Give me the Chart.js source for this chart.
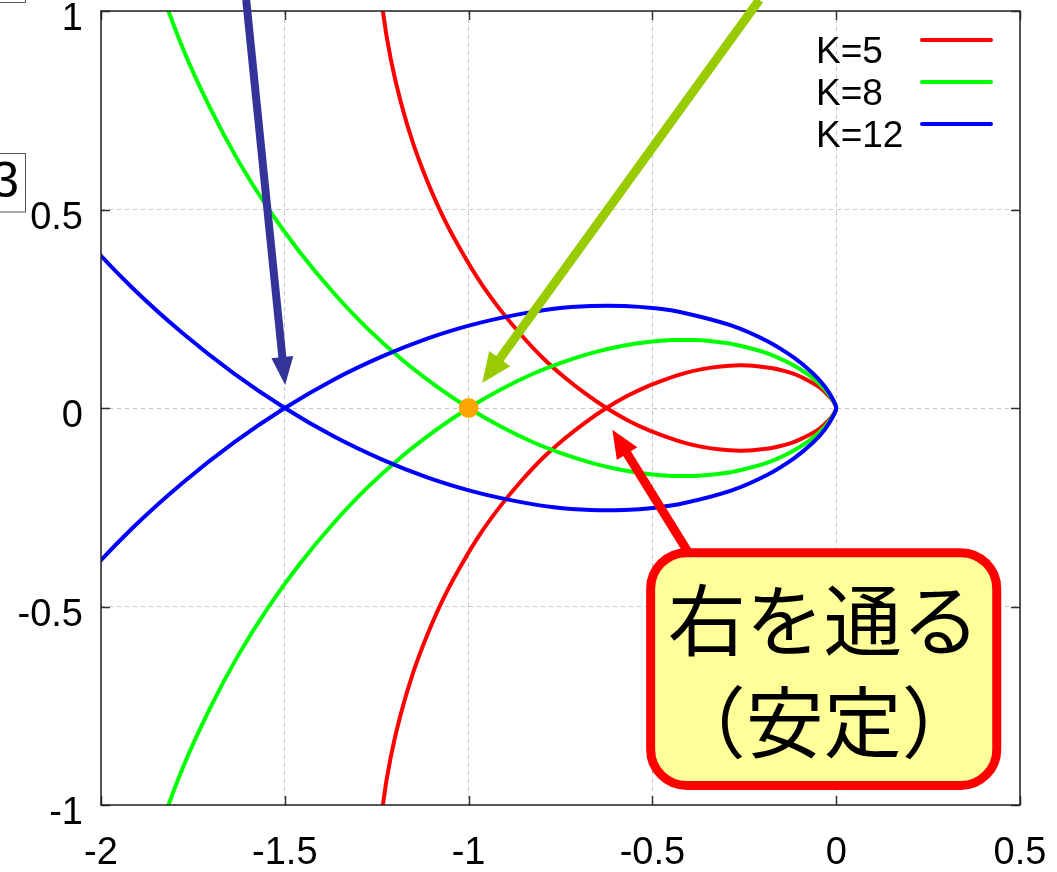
<!DOCTYPE html>
<html>
<head>
<meta charset="utf-8">
<script src="https://cdn.jsdelivr.net/npm/chart.js@4.4.1/dist/chart.umd.min.js"></script>
<style>
  html, body { margin: 0; padding: 0; background: #ffffff; }
  #wrap { width: 1057px; height: 872px; position: relative; }
</style>
</head>
<body>
<div id="wrap"><canvas id="nyquist"></canvas></div>
<script>
// Axis ticks
const xTicks = [-2, -1.5, -1, -0.5, 0, 0.5];
const yTicks = [-1, -0.5, 0, 0.5, 1];

// Series labels and colours
const seriesLabels = ['K=5', 'K=8', 'K=12'];
const seriesColors = ['#ff0000', '#00ff00', '#0000ff'];

// Nyquist loci of K/(s+1)^3, traced along the path: upper-left branch -> real-axis
// crossing -> lower loop -> origin -> upper loop -> crossing -> lower-left branch
const k5x = [-1.250, -1.246, -1.233, -1.212, -1.184, -1.150, -1.110, -1.066, -1.017, -0.966, -0.911, -0.855, -0.798, -0.740, -0.682, -0.625,
  -0.569, -0.515, -0.462, -0.412, -0.365, -0.320, -0.278, -0.240, -0.205, -0.173, -0.119, -0.078, -0.047, -0.026, -0.013, -0.003, 0,
  -0.003, -0.013, -0.026, -0.047, -0.078, -0.119, -0.173, -0.205, -0.240, -0.278, -0.320, -0.365, -0.412, -0.462, -0.515, -0.569,
  -0.625, -0.682, -0.740, -0.798, -0.855, -0.911, -0.966, -1.017, -1.066, -1.110, -1.150, -1.184, -1.212, -1.233, -1.246, -1.250];
const k5y = [1.250, 1.121, 0.998, 0.880, 0.769, 0.664, 0.566, 0.475, 0.391, 0.314, 0.244, 0.182, 0.126, 0.078, 0.036, 0,
  -0.030, -0.054, -0.073, -0.088, -0.098, -0.104, -0.107, -0.107, -0.104, -0.100, -0.087, -0.070, -0.053, -0.036, -0.023, -0.008, 0,
  0.008, 0.023, 0.036, 0.053, 0.070, 0.087, 0.100, 0.104, 0.107, 0.107, 0.104, 0.098, 0.088, 0.073, 0.054, 0.030,
  0, -0.036, -0.078, -0.126, -0.182, -0.244, -0.314, -0.391, -0.475, -0.566, -0.664, -0.769, -0.880, -0.998, -1.121, -1.250];

const k8x = [-1.895, -1.840, -1.777, -1.705, -1.628, -1.545, -1.458, -1.368, -1.277, -1.184, -1.091, -1,
  -0.910, -0.823, -0.739, -0.659, -0.583, -0.512, -0.446, -0.384, -0.328, -0.277, -0.191, -0.125, -0.076, -0.042, -0.021, -0.005, 0,
  -0.005, -0.021, -0.042, -0.076, -0.125, -0.191, -0.277, -0.328, -0.384, -0.446, -0.512, -0.583, -0.659, -0.739, -0.823, -0.910,
  -1, -1.091, -1.184, -1.277, -1.368, -1.458, -1.545, -1.628, -1.705, -1.777, -1.840, -1.895];
const k8y = [1.230, 1.062, 0.905, 0.759, 0.625, 0.502, 0.391, 0.291, 0.202, 0.124, 0.057, 0,
  -0.048, -0.087, -0.117, -0.140, -0.156, -0.166, -0.171, -0.171, -0.167, -0.160, -0.139, -0.112, -0.084, -0.058, -0.036, -0.014, 0,
  0.014, 0.036, 0.058, 0.084, 0.112, 0.139, 0.160, 0.167, 0.171, 0.171, 0.166, 0.156, 0.140, 0.117, 0.087, 0.048,
  0, -0.057, -0.124, -0.202, -0.291, -0.391, -0.502, -0.625, -0.759, -0.905, -1.062, -1.230];

const k12x = [-2.187, -2.052, -1.915, -1.776, -1.637, -1.5,
  -1.366, -1.235, -1.109, -0.989, -0.875, -0.768, -0.668, -0.576, -0.492, -0.416, -0.286, -0.187, -0.114, -0.063, -0.031, -0.008, 0,
  -0.008, -0.031, -0.063, -0.114, -0.187, -0.286, -0.416, -0.492, -0.576, -0.668, -0.768, -0.875, -0.989, -1.109, -1.235, -1.366,
  -1.5, -1.637, -1.776, -1.915, -2.052, -2.187];
const k12y = [0.586, 0.436, 0.303, 0.187, 0.086, 0,
  -0.072, -0.130, -0.176, -0.210, -0.234, -0.250, -0.257, -0.257, -0.251, -0.240, -0.208, -0.168, -0.126, -0.087, -0.054, -0.020, 0,
  0.020, 0.054, 0.087, 0.126, 0.168, 0.208, 0.240, 0.251, 0.257, 0.257, 0.250, 0.234, 0.210, 0.176, 0.130, 0.072,
  0, -0.086, -0.187, -0.303, -0.436, -0.586];

// The critical point -1 + j0
const criticalX = [-1];
const criticalY = [0];

// Callout box text
const calloutLines = ['右を通る', '（安定）'];

const pairs = (xs, ys) => xs.map((x, i) => ({ x: x, y: ys[i] }));
const FONT = "'Liberation Sans', Arial, sans-serif";

// Annotation arrows, given in data units (tail may sit above the plot frame)
const arrows = [
  { from: [-1.605, 1.028], to: [-1.499, 0.058], color: '#333399', shaft: 8, headLen: 28, headW: 22 },
  { from: [-0.209, 1.028], to: [-0.963, 0.063], color: '#99cc00', shaft: 9, headLen: 30, headW: 26 },
  { from: [-0.397, -0.372], to: [-0.609, -0.055], color: '#ff0000', shaft: 9, headLen: 28, headW: 24 }
];
const callout = { x1: -0.517, x2: 0.449, y1: -0.353, y2: -0.962, line1: -0.534, line2: -0.791 };

function drawArrow(ctx, sx, sy, tx, ty, a) {
  const dx = tx - sx, dy = ty - sy;
  const len = Math.hypot(dx, dy);
  const ux = dx / len, uy = dy / len;
  const bx = tx - ux * a.headLen, by = ty - uy * a.headLen;
  ctx.save();
  ctx.strokeStyle = a.color;
  ctx.fillStyle = a.color;
  ctx.lineWidth = a.shaft;
  ctx.lineCap = 'butt';
  ctx.beginPath();
  ctx.moveTo(sx, sy);
  ctx.lineTo(bx + ux * 2, by + uy * 2);
  ctx.stroke();
  ctx.beginPath();
  ctx.moveTo(tx, ty);
  ctx.lineTo(bx - uy * a.headW / 2, by + ux * a.headW / 2);
  ctx.lineTo(bx + uy * a.headW / 2, by - ux * a.headW / 2);
  ctx.closePath();
  ctx.fill();
  ctx.restore();
}

function roundRect(ctx, x, y, w, h, r) {
  ctx.beginPath();
  ctx.moveTo(x + r, y);
  ctx.lineTo(x + w - r, y);
  ctx.arcTo(x + w, y, x + w, y + r, r);
  ctx.lineTo(x + w, y + h - r);
  ctx.arcTo(x + w, y + h, x + w - r, y + h, r);
  ctx.lineTo(x + r, y + h);
  ctx.arcTo(x, y + h, x, y + h - r, r);
  ctx.lineTo(x, y + r);
  ctx.arcTo(x, y, x + r, y, r);
  ctx.closePath();
}

const decorations = {
  id: 'decorations',
  afterDatasetsDraw(chart) {
    const ctx = chart.ctx;
    const { left, right, top, bottom } = chart.chartArea;
    const xs = chart.scales.x, ys = chart.scales.y;
    ctx.save();
    // inward tick marks on all four sides
    ctx.strokeStyle = '#333333';
    ctx.lineWidth = 1.5;
    ctx.beginPath();
    xTicks.forEach(v => {
      const px = Math.round(xs.getPixelForValue(v)) + 0.5;
      ctx.moveTo(px, bottom); ctx.lineTo(px, bottom - 9);
      ctx.moveTo(px, top); ctx.lineTo(px, top + 9);
    });
    yTicks.forEach(v => {
      const py = Math.round(ys.getPixelForValue(v)) + 0.5;
      ctx.moveTo(left, py); ctx.lineTo(left + 9, py);
      ctx.moveTo(right, py); ctx.lineTo(right - 9, py);
    });
    ctx.stroke();
    // plot frame
    ctx.strokeStyle = '#222222';
    ctx.lineWidth = 1.5;
    ctx.strokeRect(left, top, right - left, bottom - top);
    ctx.restore();
  },
  afterDraw(chart) {
    const ctx = chart.ctx;
    const { left, right, top } = chart.chartArea;
    const xs = chart.scales.x, ys = chart.scales.y;
    ctx.save();

    // key: label on the left, line sample on the right
    ctx.font = '37px ' + FONT;
    ctx.textAlign = 'left';
    ctx.textBaseline = 'alphabetic';
    chart.data.datasets.slice(0, 3).forEach((ds, i) => {
      const rowY = top + 29 + i * 42;
      ctx.fillStyle = '#000000';
      ctx.fillText(ds.label, right - 204, rowY + 23);
      ctx.strokeStyle = ds.borderColor;
      ctx.lineWidth = 4;
      ctx.lineCap = 'round';
      ctx.beginPath();
      ctx.moveTo(right - 98, rowY);
      ctx.lineTo(right - 29, rowY);
      ctx.stroke();
    });

    // annotation arrows
    arrows.forEach(a => {
      drawArrow(ctx,
        xs.getPixelForValue(a.from[0]), ys.getPixelForValue(a.from[1]),
        xs.getPixelForValue(a.to[0]), ys.getPixelForValue(a.to[1]), a);
    });

    // callout box
    const bx1 = xs.getPixelForValue(callout.x1), bx2 = xs.getPixelForValue(callout.x2);
    const by1 = ys.getPixelForValue(callout.y1), by2 = ys.getPixelForValue(callout.y2);
    const sw = 9;
    roundRect(ctx, bx1 + sw / 2, by1 + sw / 2, bx2 - bx1 - sw, by2 - by1 - sw, 36);
    ctx.fillStyle = '#ffff99';
    ctx.fill();
    ctx.strokeStyle = '#ff0000';
    ctx.lineWidth = sw;
    ctx.stroke();
    ctx.fillStyle = '#000000';
    ctx.font = "78px 'Noto Sans CJK JP', sans-serif";
    ctx.textAlign = 'center';
    ctx.textBaseline = 'middle';
    const cx = (bx1 + bx2) / 2;
    ctx.fillText(calloutLines[0], cx, ys.getPixelForValue(callout.line1));
    ctx.fillText(calloutLines[1], cx, ys.getPixelForValue(callout.line2));

    // cut-off frames at the left margin
    ctx.strokeStyle = '#555555';
    ctx.lineWidth = 1;
    ctx.beginPath();
    ctx.moveTo(0, 2.5); ctx.lineTo(25.5, 2.5); ctx.lineTo(25.5, 0);
    ctx.stroke();
    ctx.strokeRect(-1, 153.5, 26.5, 58.5);
    ctx.fillStyle = '#000000';
    ctx.font = '50px ' + FONT;
    ctx.textAlign = 'right';
    ctx.textBaseline = 'alphabetic';
    ctx.fillText('3', 19, 197);
    ctx.restore();
  }
};

const lineStyle = (i) => ({
  label: seriesLabels[i],
  borderColor: seriesColors[i],
  backgroundColor: seriesColors[i],
  borderWidth: 4,
  showLine: true,
  fill: false,
  pointRadius: 0,
  tension: 0.35,
  clip: 0
});

new Chart(document.getElementById('nyquist'), {
  type: 'scatter',
  data: {
    datasets: [
      Object.assign(lineStyle(0), { data: pairs(k5x, k5y), order: 3 }),
      Object.assign(lineStyle(1), { data: pairs(k8x, k8y), order: 2 }),
      Object.assign(lineStyle(2), { data: pairs(k12x, k12y), order: 1 }),
      {
        label: '-1',
        data: pairs(criticalX, criticalY),
        pointRadius: 10,
        pointBackgroundColor: '#ffa500',
        pointBorderWidth: 0,
        showLine: false,
        order: 0
      }
    ]
  },
  options: {
    responsive: true,
    maintainAspectRatio: false,
    animation: false,
    layout: { padding: { top: 11, right: 37, left: 0, bottom: 0 } },
    plugins: { legend: { display: false }, tooltip: { enabled: false } },
    scales: {
      x: {
        type: 'linear',
        min: -2, max: 0.5,
        afterBuildTicks: s => { s.ticks = xTicks.map(v => ({ value: v })); },
        afterFit: s => { s.height = 67; s.paddingLeft = 0; s.paddingRight = 0; },
        ticks: {
          callback: v => String(v),
          font: { family: FONT, size: 38 },
          color: '#000000',
          padding: 26,
          maxRotation: 0,
          autoSkip: false
        },
        grid: { color: '#c4c4c4', lineWidth: 1, drawTicks: false },
        border: { display: false, dash: [4, 4] }
      },
      y: {
        type: 'linear',
        min: -1, max: 1,
        afterBuildTicks: s => { s.ticks = yTicks.map(v => ({ value: v })); },
        afterFit: s => { s.width = 101; s.paddingTop = 0; s.paddingBottom = 0; },
        ticks: {
          callback: v => String(v),
          font: { family: FONT, size: 38 },
          color: '#000000',
          padding: 18,
          labelOffset: 9,
          autoSkip: false
        },
        grid: { color: '#c4c4c4', lineWidth: 1, drawTicks: false },
        border: { display: false, dash: [4, 4] }
      }
    }
  },
  plugins: [decorations]
});
</script>
</body>
</html>
